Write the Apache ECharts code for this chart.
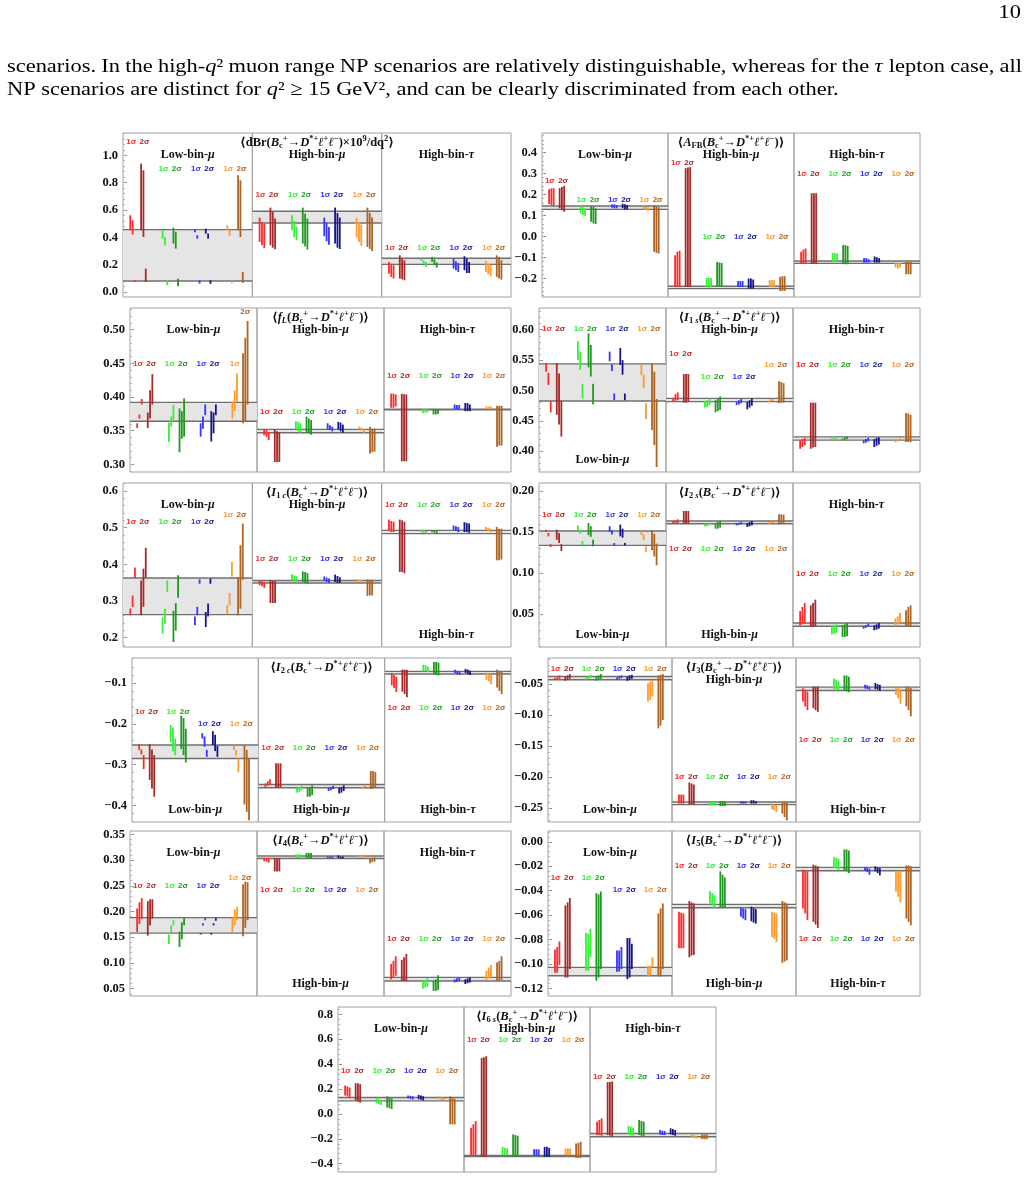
<!DOCTYPE html>
<html>
<head>
<meta charset="utf-8">
<script src="https://cdn.jsdelivr.net/npm/echarts@6/dist/echarts.min.js"></script>
<style>
  html, body { margin: 0; padding: 0; background: #fff; }
  #chart { width: 1028px; height: 1179px; }
</style>
</head>
<body>
<div id="chart"></div>
<script>
// ---- page text ----
const pageNumber = '10';
const paraLine1 = 'scenarios. In the high-q² muon range NP scenarios are relatively distinguishable, whereas for the τ lepton case, all';
const paraLine2 = '{n|NP scenarios are distinct for }{i|q}{n|² ≥ 15 GeV², and can be clearly discriminated from each other.}';

// ---- sub-panel names ----
const subNames = ['{n|Low-bin-}{i|μ}', '{n|High-bin-}{i|μ}', '{n|High-bin-}{i|τ}'];

// ---- panel titles ----
const decay = '{n|(}{i|B}{sb|c}{sp|+}{n|→}{i|D}{sp|*+}{i|ℓ}{sp|+}{i|ℓ}{sp|−}{n|)}';
const dBrTitle = '{n|⟨dBr}' + decay + '{n|×10}{sp|9}{n|/dq}{sp|2}{n|⟩}';
const afbTitle = '{n|⟨}{i|A}{sb|FB}' + decay + '{n|⟩}';
const fLTitle = '{n|⟨}{i|f}{sbi|L}' + decay + '{n|⟩}';
const i1sTitle = '{n|⟨}{i|I}{sb|1 }{sbi|s}' + decay + '{n|⟩}';
const i1cTitle = '{n|⟨}{i|I}{sb|1 }{sbi|c}' + decay + '{n|⟩}';
const i2sTitle = '{n|⟨}{i|I}{sb|2 }{sbi|s}' + decay + '{n|⟩}';
const i2cTitle = '{n|⟨}{i|I}{sb|2 }{sbi|c}' + decay + '{n|⟩}';
const i3Title = '{n|⟨}{i|I}{sb|3}' + decay + '{n|⟩}';
const i4Title = '{n|⟨}{i|I}{sb|4}' + decay + '{n|⟩}';
const i5Title = '{n|⟨}{i|I}{sb|5}' + decay + '{n|⟩}';
const i6sTitle = '{n|⟨}{i|I}{sb|6 }{sbi|s}' + decay + '{n|⟩}';

// ---- tick labels ----
const dBrTicks = [0, 0.2, 0.4, 0.6, 0.8, 1.0];
const afbTicks = [-0.2, -0.1, 0, 0.1, 0.2, 0.3, 0.4];
const fLTicks = [0.30, 0.35, 0.40, 0.45, 0.50];
const i1sTicks = [0.40, 0.45, 0.50, 0.55, 0.60];
const i1cTicks = [0.2, 0.3, 0.4, 0.5, 0.6];
const i2sTicks = [0.05, 0.10, 0.15, 0.20];
const i2cTicks = [-0.4, -0.3, -0.2, -0.1];
const i3Ticks = [-0.25, -0.20, -0.15, -0.10, -0.05];
const i4Ticks = [0.05, 0.10, 0.15, 0.20, 0.25, 0.30, 0.35];
const i5Ticks = [-0.12, -0.10, -0.08, -0.06, -0.04, -0.02, 0.00];
const i6sTicks = [-0.4, -0.2, 0, 0.2, 0.4, 0.6, 0.8];

// ---- data: each sub-panel = 8 clusters (red 1σ, red 2σ, green 1σ, green 2σ, blue 1σ, blue 2σ, orange 1σ, orange 2σ),
//      each cluster = list of [low, high] ranges. SM = [low, high] band per sub-panel. Tags = y of "1σ 2σ" labels.

// dBr
const dBrSM = [[0.080, 0.456], [0.505, 0.590], [0.202, 0.246]];
const dBrLow = [
  [[0.451, 0.561], [0.420, 0.524], [0.073, 0.085]],
  [[0.451, 0.939], [0.402, 0.890], [0.073, 0.171]],
  [[0.390, 0.451], [0.340, 0.400], [0.050, 0.085]],
  [[0.354, 0.470], [0.317, 0.440], [0.041, 0.097]],
  [[0.437, 0.456], [0.390, 0.415], [0.061, 0.085]],
  [[0.427, 0.463], [0.390, 0.427], [0.059, 0.085]],
  [[0.451, 0.488], [0.410, 0.456], [0.066, 0.080]],
  [[0.451, 0.854], [0.402, 0.817], [0.066, 0.146]]
];
const dBrHighMu = [
  [[0.366, 0.544], [0.341, 0.512], [0.322, 0.500]],
  [[0.341, 0.617], [0.324, 0.585], [0.312, 0.537]],
  [[0.451, 0.561], [0.400, 0.520], [0.378, 0.476]],
  [[0.354, 0.617], [0.334, 0.573], [0.310, 0.537]],
  [[0.407, 0.544], [0.371, 0.507], [0.346, 0.476]],
  [[0.354, 0.617], [0.324, 0.578], [0.314, 0.544]],
  [[0.398, 0.544], [0.366, 0.512], [0.337, 0.493]],
  [[0.329, 0.617], [0.315, 0.578], [0.300, 0.544]]
];
const dBrHighTau = [
  [[0.134, 0.220], [0.110, 0.207], [0.098, 0.195]],
  [[0.098, 0.268], [0.093, 0.244], [0.085, 0.232]],
  [[0.227, 0.244], [0.207, 0.232], [0.183, 0.220]],
  [[0.220, 0.256], [0.195, 0.239], [0.178, 0.215]],
  [[0.171, 0.244], [0.159, 0.224], [0.146, 0.212]],
  [[0.159, 0.261], [0.139, 0.244], [0.139, 0.220]],
  [[0.146, 0.227], [0.129, 0.207], [0.117, 0.200]],
  [[0.110, 0.268], [0.098, 0.256], [0.090, 0.232]]
];
const dBrTags = [[1.098, 0.90, 0.90, 0.90], [0.712, 0.712, 0.712, 0.712], [0.324, 0.324, 0.324, 0.324]];

// AFB
const afbSM = [[0.129, 0.145], [-0.248, -0.237], [-0.128, -0.117]];
const afbLow = [
  [[0.155, 0.225], [0.150, 0.229], [0.145, 0.230]],
  [[0.134, 0.230], [0.125, 0.235], [0.118, 0.241]],
  [[0.110, 0.145], [0.102, 0.139], [0.098, 0.134]],
  [[0.070, 0.145], [0.062, 0.142], [0.059, 0.134]],
  [[0.137, 0.153], [0.134, 0.153], [0.134, 0.150]],
  [[0.134, 0.156], [0.129, 0.153], [0.129, 0.150]],
  [[0.129, 0.145], [0.126, 0.142], [0.123, 0.139]],
  [[-0.073, 0.150], [-0.078, 0.145], [-0.081, 0.139]]
];
const afbHighMu = [
  [[-0.240, -0.089], [-0.240, -0.073], [-0.240, -0.068]],
  [[-0.240, 0.325], [-0.240, 0.328], [-0.240, 0.330]],
  [[-0.240, -0.196], [-0.240, -0.196], [-0.240, -0.198]],
  [[-0.240, -0.121], [-0.240, -0.124], [-0.240, -0.126]],
  [[-0.240, -0.212], [-0.240, -0.212], [-0.240, -0.212]],
  [[-0.248, -0.200], [-0.248, -0.200], [-0.248, -0.205]],
  [[-0.240, -0.208], [-0.240, -0.208], [-0.240, -0.208]],
  [[-0.259, -0.192], [-0.259, -0.189], [-0.259, -0.189]]
];
const afbHighTau = [
  [[-0.129, -0.073], [-0.129, -0.062], [-0.129, -0.057]],
  [[-0.129, 0.206], [-0.129, 0.206], [-0.129, 0.206]],
  [[-0.121, -0.078], [-0.121, -0.078], [-0.121, -0.081]],
  [[-0.132, -0.041], [-0.132, -0.041], [-0.132, -0.045]],
  [[-0.124, -0.103], [-0.124, -0.103], [-0.124, -0.108]],
  [[-0.124, -0.095], [-0.124, -0.099], [-0.124, -0.103]],
  [[-0.148, -0.126], [-0.153, -0.126], [-0.148, -0.126]],
  [[-0.180, -0.121], [-0.180, -0.121], [-0.180, -0.121]]
];
const afbTags = [[0.266, 0.174, 0.174, 0.174], [0.352, 0, 0, 0], [0.30, 0.30, 0.30, 0.30]];

// fL
const fLSM = [[0.364, 0.392], [0.347, 0.352], [0.381, 0.382]];
const fLLow = [
  [[0.354, 0.361], [0.368, 0.374], [0.389, 0.397]],
  [[0.354, 0.377], [0.368, 0.410], [0.389, 0.434]],
  [[0.333, 0.362], [0.356, 0.371], [0.366, 0.388]],
  [[0.318, 0.383], [0.338, 0.379], [0.341, 0.398]],
  [[0.341, 0.361], [0.353, 0.371], [0.373, 0.389]],
  [[0.334, 0.379], [0.346, 0.377], [0.373, 0.389]],
  [[0.368, 0.393], [0.379, 0.410], [0.393, 0.435]],
  [[0.361, 0.465], [0.363, 0.488], [0.389, 0.513]]
];
const fLHighMu = [
  [[0.343, 0.352], [0.341, 0.351], [0.336, 0.348]],
  [[0.3035, 0.352], [0.3035, 0.349], [0.3035, 0.348]],
  [[0.352, 0.364], [0.349, 0.363], [0.347, 0.361]],
  [[0.347, 0.371], [0.346, 0.368], [0.344, 0.366]],
  [[0.352, 0.361], [0.351, 0.358], [0.349, 0.356]],
  [[0.352, 0.363], [0.349, 0.362], [0.347, 0.359]],
  [[0.352, 0.356], [0.350, 0.354], [0.347, 0.352]],
  [[0.316, 0.356], [0.318, 0.353], [0.319, 0.353]]
];
const fLHighTau = [
  [[0.384, 0.405], [0.384, 0.405], [0.386, 0.404]],
  [[0.3045, 0.405], [0.3045, 0.404], [0.3045, 0.404]],
  [[0.376, 0.382], [0.377, 0.382], [0.377, 0.382]],
  [[0.374, 0.382], [0.374, 0.382], [0.375, 0.382]],
  [[0.382, 0.389], [0.382, 0.388], [0.382, 0.388]],
  [[0.379, 0.391], [0.379, 0.391], [0.379, 0.389]],
  [[0.382, 0.386], [0.382, 0.386], [0.382, 0.386]],
  [[0.326, 0.387], [0.328, 0.387], [0.328, 0.387]]
];
const fLTags = [[0.449, 0.449, 0.449, [0.449, 0.527]], [0.378, 0.378, 0.378, 0.378], [0.431, 0.431, 0.431, 0.431]];

// I1s
const i1sSM = [[0.4826, 0.5438], [0.4816, 0.487], [0.4182, 0.4237]];
const i1sLow = [
  [[0.531, 0.545], [0.509, 0.529], [0.464, 0.483]],
  [[0.460, 0.545], [0.444, 0.528], [0.424, 0.483]],
  [[0.550, 0.581], [0.534, 0.564], [0.487, 0.511]],
  [[0.538, 0.594], [0.523, 0.575], [0.477, 0.511]],
  [[0.548, 0.564], [0.532, 0.543], [0.484, 0.495]],
  [[0.542, 0.570], [0.526, 0.550], [0.484, 0.495]],
  [[0.525, 0.543], [0.504, 0.526], [0.453, 0.479]],
  [[0.435, 0.545], [0.410, 0.531], [0.374, 0.486]]
];
const i1sHighMu = [
  [[0.482, 0.488], [0.483, 0.494], [0.484, 0.497]],
  [[0.480, 0.527], [0.480, 0.527], [0.481, 0.527]],
  [[0.472, 0.483], [0.473, 0.484], [0.476, 0.487]],
  [[0.464, 0.484], [0.466, 0.487], [0.468, 0.490]],
  [[0.476, 0.481], [0.477, 0.484], [0.479, 0.486]],
  [[0.469, 0.481], [0.472, 0.484], [0.475, 0.487]],
  [[0.480, 0.483], [0.482, 0.486], [0.483, 0.487]],
  [[0.479, 0.515], [0.480, 0.514], [0.480, 0.512]]
];
const i1sHighTau = [
  [[0.404, 0.418], [0.407, 0.420], [0.410, 0.422]],
  [[0.404, 0.480], [0.406, 0.480], [0.407, 0.480]],
  [[0.418, 0.421], [0.419, 0.422], [0.420, 0.423]],
  [[0.418, 0.421], [0.419, 0.423], [0.420, 0.424]],
  [[0.413, 0.418], [0.414, 0.420], [0.416, 0.422]],
  [[0.407, 0.420], [0.409, 0.422], [0.411, 0.423]],
  [[0.415, 0.418], [0.416, 0.420], [0.418, 0.422]],
  [[0.415, 0.463], [0.415, 0.462], [0.415, 0.460]]
];
const i1sTags = [[0.602, 0.602, 0.602, 0.602], [0.560, 0.523, 0.523, 0.542], [0.542, 0.542, 0.542, 0.542]];

// I1c
const i1cSM = [[0.2627, 0.3627], [0.349, 0.356], [0.4836, 0.4927]];
const i1cLow = [
  [[0.261, 0.279], [0.284, 0.315], [0.363, 0.391]],
  [[0.261, 0.356], [0.284, 0.388], [0.363, 0.445]],
  [[0.211, 0.256], [0.238, 0.279], [0.325, 0.356]],
  [[0.188, 0.273], [0.219, 0.294], [0.309, 0.370]],
  [[0.234, 0.258], [0.261, 0.284], [0.347, 0.359]],
  [[0.229, 0.270], [0.258, 0.293], [0.347, 0.361]],
  [[0.264, 0.288], [0.288, 0.322], [0.367, 0.406]],
  [[0.261, 0.365], [0.279, 0.452], [0.358, 0.511]]
];
const i1cHighMu = [
  [[0.343, 0.356], [0.340, 0.354], [0.336, 0.352]],
  [[0.2945, 0.356], [0.2945, 0.355], [0.2945, 0.354]],
  [[0.356, 0.373], [0.354, 0.370], [0.352, 0.367]],
  [[0.352, 0.381], [0.349, 0.379], [0.347, 0.376]],
  [[0.356, 0.367], [0.352, 0.364], [0.349, 0.361]],
  [[0.352, 0.372], [0.349, 0.368], [0.349, 0.365]],
  [[0.356, 0.359], [0.354, 0.358], [0.352, 0.358]],
  [[0.314, 0.359], [0.315, 0.358], [0.315, 0.358]]
];
const i1cHighTau = [
  [[0.491, 0.522], [0.488, 0.518], [0.488, 0.516]],
  [[0.379, 0.522], [0.379, 0.520], [0.376, 0.516]],
  [[0.488, 0.493], [0.486, 0.493], [0.484, 0.491]],
  [[0.488, 0.493], [0.486, 0.493], [0.484, 0.491]],
  [[0.493, 0.506], [0.491, 0.504], [0.488, 0.502]],
  [[0.488, 0.515], [0.488, 0.513], [0.486, 0.511]],
  [[0.493, 0.502], [0.491, 0.500], [0.488, 0.497]],
  [[0.411, 0.502], [0.411, 0.497], [0.413, 0.497]]
];
const i1cTags = [[0.515, 0.515, 0.515, 0.534], [0.415, 0.415, 0.415, 0.415], [0.561, 0.561, 0.561, 0.561]];

// I2s
const i2sSM = [[0.1336, 0.1511], [0.160, 0.1633], [0.0347, 0.0388]];
const i2sLow = [
  [[0.150, 0.1528], [0.1446, 0.1487], [0.1316, 0.135]],
  [[0.1406, 0.1528], [0.1365, 0.1487], [0.1267, 0.135]],
  [[0.152, 0.158], [0.148, 0.153], [0.1336, 0.139]],
  [[0.146, 0.161], [0.144, 0.157], [0.1324, 0.1405]],
  [[0.150, 0.157], [0.147, 0.152], [0.1336, 0.1365]],
  [[0.1446, 0.159], [0.143, 0.154], [0.1336, 0.1365]],
  [[0.146, 0.151], [0.1397, 0.147], [0.1255, 0.1324]],
  [[0.1275, 0.152], [0.120, 0.1478], [0.1092, 0.1357]]
];
const i2sHighMu = [
  [[0.160, 0.1633], [0.1609, 0.1642], [0.1609, 0.1654]],
  [[0.160, 0.1756], [0.160, 0.1756], [0.160, 0.1756]],
  [[0.1568, 0.160], [0.1572, 0.160], [0.158, 0.1609]],
  [[0.154, 0.1609], [0.154, 0.1621], [0.1552, 0.1633]],
  [[0.158, 0.1609], [0.1589, 0.1613], [0.1593, 0.1621]],
  [[0.156, 0.1609], [0.1568, 0.1621], [0.158, 0.1633]],
  [[0.160, 0.1621], [0.160, 0.1621], [0.1609, 0.1629]],
  [[0.159, 0.1715], [0.160, 0.1715], [0.160, 0.1711]]
];
const i2sHighTau = [
  [[0.0359, 0.0534], [0.0371, 0.0583], [0.038, 0.0632]],
  [[0.0339, 0.0603], [0.0339, 0.0632], [0.0347, 0.0673]],
  [[0.0249, 0.0347], [0.0257, 0.0359], [0.0265, 0.0371]],
  [[0.0217, 0.0359], [0.0217, 0.0371], [0.0225, 0.0388]],
  [[0.0318, 0.0347], [0.033, 0.0359], [0.0339, 0.038]],
  [[0.0298, 0.0359], [0.0306, 0.0371], [0.0318, 0.0388]],
  [[0.0347, 0.0441], [0.0371, 0.0469], [0.0388, 0.051]],
  [[0.0339, 0.0542], [0.0339, 0.0583], [0.0347, 0.0603]]
];
const i2sTags = [[0.1715, 0.1715, 0.1715, 0.1715], [0.1296, 0.1296, 0.1296, 0.1296], [0.099, 0.099, 0.099, 0.099]];

// I2c
const i2cSM = [[-0.285, -0.252], [-0.357, -0.349], [-0.0778, -0.0712]];
const i2cLow = [
  [[-0.264, -0.250], [-0.275, -0.263], [-0.311, -0.277]],
  [[-0.338, -0.250], [-0.359, -0.263], [-0.379, -0.277]],
  [[-0.245, -0.203], [-0.268, -0.209], [-0.277, -0.236]],
  [[-0.262, -0.180], [-0.277, -0.186], [-0.295, -0.212]],
  [[-0.236, -0.223], [-0.256, -0.231], [-0.281, -0.264]],
  [[-0.252, -0.218], [-0.267, -0.227], [-0.281, -0.254]],
  [[-0.264, -0.252], [-0.278, -0.264], [-0.319, -0.285]],
  [[-0.398, -0.252], [-0.416, -0.264], [-0.437, -0.285]]
];
const i2cHighMu = [
  [[-0.357, -0.3465], [-0.352, -0.341], [-0.349, -0.336]],
  [[-0.357, -0.297], [-0.357, -0.297], [-0.355, -0.297]],
  [[-0.369, -0.357], [-0.367, -0.355], [-0.363, -0.351]],
  [[-0.379, -0.357], [-0.379, -0.355], [-0.375, -0.351]],
  [[-0.365, -0.357], [-0.363, -0.355], [-0.360, -0.352]],
  [[-0.371, -0.357], [-0.369, -0.355], [-0.365, -0.351]],
  [[-0.360, -0.357], [-0.359, -0.355], [-0.355, -0.351]],
  [[-0.360, -0.316], [-0.359, -0.316], [-0.357, -0.318]]
];
const i2cHighTau = [
  [[-0.106, -0.075], [-0.112, -0.080], [-0.122, -0.084]],
  [[-0.121, -0.067], [-0.127, -0.067], [-0.135, -0.067]],
  [[-0.071, -0.055], [-0.071, -0.056], [-0.073, -0.059]],
  [[-0.078, -0.048], [-0.080, -0.048], [-0.081, -0.050]],
  [[-0.075, -0.067], [-0.078, -0.070], [-0.080, -0.071]],
  [[-0.075, -0.065], [-0.078, -0.067], [-0.080, -0.070]],
  [[-0.092, -0.075], [-0.096, -0.078], [-0.103, -0.080]],
  [[-0.111, -0.067], [-0.119, -0.070], [-0.127, -0.071]]
];
const i2cTags = [[-0.17, -0.17, -0.199, -0.199], [-0.259, -0.259, -0.259, -0.259], [-0.16, -0.16, -0.16, -0.16]];

// I3
const i3SM = [[-0.043, -0.0376], [-0.2446, -0.2403], [-0.0603, -0.0549]];
const i3Low = [
  [[-0.043, -0.0403], [-0.043, -0.0392], [-0.0414, -0.0359]],
  [[-0.0446, -0.0376], [-0.043, -0.0359], [-0.0414, -0.0338]],
  [[-0.043, -0.0392], [-0.0414, -0.0376], [-0.0403, -0.0349]],
  [[-0.0446, -0.0376], [-0.043, -0.0359], [-0.0414, -0.0338]],
  [[-0.043, -0.0392], [-0.0414, -0.0376], [-0.0403, -0.0359]],
  [[-0.0446, -0.0376], [-0.043, -0.0359], [-0.0414, -0.0349]],
  [[-0.0781, -0.0484], [-0.0754, -0.0457], [-0.070, -0.043]],
  [[-0.1214, -0.0359], [-0.117, -0.0349], [-0.1078, -0.0338]]
];
const i3HighMu = [
  [[-0.243, -0.2284], [-0.243, -0.2284], [-0.243, -0.2284]],
  [[-0.2446, -0.2089], [-0.2446, -0.2105], [-0.2446, -0.2122]],
  [[-0.2457, -0.2403], [-0.2457, -0.2403], [-0.2457, -0.2403]],
  [[-0.2468, -0.2392], [-0.2468, -0.2392], [-0.2468, -0.2392]],
  [[-0.243, -0.2392], [-0.243, -0.2392], [-0.243, -0.2392]],
  [[-0.243, -0.2376], [-0.243, -0.2376], [-0.243, -0.2392]],
  [[-0.2522, -0.243], [-0.2538, -0.2446], [-0.2565, -0.2457]],
  [[-0.2592, -0.2403], [-0.2646, -0.2403], [-0.270, -0.2403]]
];
const i3HighTau = [
  [[-0.078, -0.0565], [-0.086, -0.059], [-0.092, -0.062]],
  [[-0.089, -0.054], [-0.092, -0.054], [-0.095, -0.054]],
  [[-0.058, -0.041], [-0.058, -0.043], [-0.059, -0.045]],
  [[-0.061, -0.036], [-0.062, -0.036], [-0.063, -0.038]],
  [[-0.057, -0.051], [-0.058, -0.052], [-0.059, -0.054]],
  [[-0.058, -0.048], [-0.059, -0.050], [-0.061, -0.051]],
  [[-0.067, -0.0565], [-0.073, -0.0565], [-0.082, -0.059]],
  [[-0.086, -0.054], [-0.092, -0.054], [-0.102, -0.0565]]
];
const i3Tags = [[-0.0251, -0.0251, -0.0251, -0.0251], [-0.20, -0.20, -0.20, -0.20], [-0.1403, -0.1403, -0.1403, -0.1403]];

// I4
const i4SM = [[0.158, 0.188], [0.303, 0.308], [0.065, 0.072]];
const i4Low = [
  [[0.160, 0.206], [0.176, 0.218], [0.185, 0.226]],
  [[0.153, 0.220], [0.173, 0.224], [0.186, 0.224]],
  [[0.137, 0.155], [0.160, 0.173], [0.173, 0.183]],
  [[0.131, 0.161], [0.146, 0.179], [0.173, 0.187]],
  [[0.155, 0.158], [0.173, 0.177], [0.183, 0.187]],
  [[0.155, 0.158], [0.173, 0.177], [0.182, 0.187]],
  [[0.160, 0.188], [0.173, 0.204], [0.183, 0.209]],
  [[0.152, 0.253], [0.168, 0.258], [0.183, 0.257]]
];
const i4HighMu = [
  [[0.298, 0.304], [0.297, 0.304], [0.295, 0.304]],
  [[0.278, 0.304], [0.278, 0.304], [0.278, 0.304]],
  [[0.304, 0.311], [0.304, 0.311], [0.304, 0.311]],
  [[0.303, 0.314], [0.303, 0.314], [0.303, 0.314]],
  [[0.304, 0.307], [0.304, 0.307], [0.303, 0.307]],
  [[0.304, 0.309], [0.303, 0.307], [0.303, 0.307]],
  [[0.305, 0.309], [0.305, 0.309], [0.305, 0.309]],
  [[0.294, 0.304], [0.296, 0.304], [0.297, 0.305]]
];
const i4HighTau = [
  [[0.068, 0.098], [0.072, 0.104], [0.075, 0.113]],
  [[0.065, 0.106], [0.065, 0.111], [0.065, 0.1175]],
  [[0.050, 0.065], [0.052, 0.067], [0.054, 0.070]],
  [[0.0455, 0.065], [0.0455, 0.068], [0.0474, 0.076]],
  [[0.062, 0.068], [0.063, 0.070], [0.065, 0.072]],
  [[0.059, 0.068], [0.0605, 0.070], [0.062, 0.072]],
  [[0.067, 0.085], [0.070, 0.091], [0.072, 0.096]],
  [[0.065, 0.101], [0.065, 0.104], [0.067, 0.113]]
];
const i4Tags = [[0.25, 0.25, 0.25, 0.265], [0.242, 0.242, 0.242, 0.242], [0.147, 0.147, 0.147, 0.147]];

// I5
const i5SM = [[-0.1095, -0.1027], [-0.054, -0.0512], [-0.0237, -0.0209]];
const i5Low = [
  [[-0.107, -0.088], [-0.107, -0.086], [-0.1007, -0.0815]],
  [[-0.111, -0.052], [-0.111, -0.0495], [-0.104, -0.046]],
  [[-0.1054, -0.0743], [-0.1054, -0.0752], [-0.0944, -0.071]],
  [[-0.1137, -0.042], [-0.111, -0.043], [-0.104, -0.0407]],
  [[-0.1062, -0.0889], [-0.1062, -0.0889], [-0.104, -0.086]],
  [[-0.1123, -0.0787], [-0.111, -0.0787], [-0.104, -0.0834]],
  [[-0.1095, -0.1018], [-0.1095, -0.1013], [-0.1027, -0.0944]],
  [[-0.110, -0.0586], [-0.110, -0.0545], [-0.104, -0.0504]]
];
const i5HighMu = [
  [[-0.087, -0.0573], [-0.087, -0.0581], [-0.087, -0.0586]],
  [[-0.0944, -0.0484], [-0.093, -0.0495], [-0.0925, -0.0504]],
  [[-0.0504, -0.0402], [-0.0523, -0.042], [-0.054, -0.0435]],
  [[-0.054, -0.0242], [-0.054, -0.027], [-0.054, -0.0292]],
  [[-0.0614, -0.054], [-0.0628, -0.0545], [-0.0641, -0.055]],
  [[-0.065, -0.0531], [-0.0661, -0.054], [-0.0669, -0.055]],
  [[-0.0779, -0.0573], [-0.0793, -0.0578], [-0.082, -0.0586]],
  [[-0.099, -0.0484], [-0.098, -0.0495], [-0.097, -0.0504]]
];
const i5HighTau = [
  [[-0.0545, -0.0228], [-0.0586, -0.0237], [-0.0641, -0.0242]],
  [[-0.0655, -0.0187], [-0.0677, -0.0193], [-0.0705, -0.0201]],
  [[-0.0215, -0.0127], [-0.0220, -0.0132], [-0.0229, -0.0138]],
  [[-0.0237, -0.0063], [-0.0242, -0.0063], [-0.0256, -0.0072]],
  [[-0.0237, -0.0209], [-0.0248, -0.0215], [-0.027, -0.022]],
  [[-0.0242, -0.0201], [-0.0256, -0.0209], [-0.0275, -0.0215]],
  [[-0.0407, -0.0237], [-0.0449, -0.0237], [-0.0495, -0.0237]],
  [[-0.0628, -0.0193], [-0.0655, -0.0193], [-0.0683, -0.0201]]
];
const i5Tags = [[-0.0297, -0.0297, -0.0394, -0.0394], [-0.0193, -0.0193, -0.0193, -0.0193], [-0.0793, -0.0793, -0.0793, -0.0793]];

// I6s
const i6sSM = [[0.1046, 0.1315], [-0.343, -0.333], [-0.184, -0.157]];
const i6sLow = [
  [[0.148, 0.229], [0.140, 0.221], [0.126, 0.212]],
  [[0.105, 0.247], [0.099, 0.247], [0.091, 0.239]],
  [[0.086, 0.126], [0.078, 0.118], [0.072, 0.113]],
  [[0.051, 0.140], [0.045, 0.134], [0.040, 0.126]],
  [[0.126, 0.148], [0.121, 0.145], [0.115, 0.142]],
  [[0.118, 0.153], [0.113, 0.148], [0.107, 0.142]],
  [[0.118, 0.140], [0.113, 0.134], [0.105, 0.126]],
  [[-0.084, 0.140], [-0.084, 0.126], [-0.084, 0.121]]
];
const i6sHighMu = [
  [[-0.332, -0.111], [-0.332, -0.084], [-0.332, -0.057]],
  [[-0.345, 0.450], [-0.345, 0.455], [-0.345, 0.463]],
  [[-0.332, -0.265], [-0.332, -0.273], [-0.332, -0.278]],
  [[-0.345, -0.165], [-0.345, -0.170], [-0.345, -0.176]],
  [[-0.337, -0.284], [-0.337, -0.284], [-0.337, -0.284]],
  [[-0.345, -0.265], [-0.345, -0.265], [-0.345, -0.273]],
  [[-0.332, -0.278], [-0.332, -0.278], [-0.332, -0.278]],
  [[-0.353, -0.238], [-0.353, -0.232], [-0.353, -0.224]]
];
const i6sHighTau = [
  [[-0.170, -0.0625], [-0.170, -0.049], [-0.176, -0.036]],
  [[-0.170, 0.2555], [-0.176, 0.2555], [-0.184, 0.261]],
  [[-0.165, -0.095], [-0.170, -0.103], [-0.176, -0.111]],
  [[-0.170, -0.049], [-0.176, -0.057], [-0.184, -0.0625]],
  [[-0.165, -0.130], [-0.170, -0.135], [-0.170, -0.138]],
  [[-0.165, -0.116], [-0.170, -0.122], [-0.176, -0.130]],
  [[-0.184, -0.165], [-0.189, -0.170], [-0.197, -0.176]],
  [[-0.203, -0.165], [-0.203, -0.165], [-0.203, -0.165]]
];
const i6sTags = [[0.35, 0.35, 0.35, 0.35], [0.598, 0.598, 0.598, 0.598], [0.301, 0.301, 0.301, 0.301]];

// ---- styling ----
const SERIF = '"Liberation Serif", "DejaVu Serif", serif';
const SANS = '"Liberation Sans", "DejaVu Sans", sans-serif';
const SHADES = [['#ff2a2a', '#a82a2a'], ['#35f035', '#1e9a1e'], ['#3535ff', '#15158f'], ['#ff9a2c', '#ae6422']];
const OFF1 = [0.225, 0.297, 0.369];
const OFF2 = [0.56, 0.632, 0.704];

const titleRich = {
  n: { fontFamily: SERIF, fontWeight: 'bold', fontSize: 12.5, fill: '#111', lineHeight: 16 },
  i: { fontFamily: SERIF, fontWeight: 'bold', fontStyle: 'italic', fontSize: 12.5, fill: '#111', lineHeight: 16 },
  sb: { fontFamily: SERIF, fontWeight: 'bold', fontSize: 8.5, fill: '#111', verticalAlign: 'bottom' },
  sbi: { fontFamily: SERIF, fontWeight: 'bold', fontStyle: 'italic', fontSize: 8.5, fill: '#111', verticalAlign: 'bottom' },
  sp: { fontFamily: SERIF, fontWeight: 'bold', fontSize: 8.5, fill: '#111', verticalAlign: 'top' }
};
const headRich = {
  n: { fontFamily: SERIF, fontWeight: 'bold', fontSize: 12, fill: '#111' },
  i: { fontFamily: SERIF, fontWeight: 'bold', fontStyle: 'italic', fontSize: 12, fill: '#111' }
};

// panel boxes [left, top, right, bottom] in px
const panels = [
  { box: [123, 133, 511, 297], min: -0.037, max: 1.163, ticks: dBrTicks, dec: 1, sm: dBrSM, subs: [dBrLow, dBrHighMu, dBrHighTau], tags: dBrTags, heads: 'ttt', title: dBrTitle },
  { box: [542, 133, 920, 297], min: -0.288, max: 0.4924, ticks: afbTicks, dec: 1, sm: afbSM, subs: [afbLow, afbHighMu, afbHighTau], tags: afbTags, heads: 'ttt', title: afbTitle },
  { box: [130, 308, 511, 472], min: 0.2886, max: 0.5323, ticks: fLTicks, dec: 2, sm: fLSM, subs: [fLLow, fLHighMu, fLHighTau], tags: fLTags, heads: 'ttt', title: fLTitle },
  { box: [539, 308, 920, 472], min: 0.3658, max: 0.6358, ticks: i1sTicks, dec: 2, sm: i1sSM, subs: [i1sLow, i1sHighMu, i1sHighTau], tags: i1sTags, heads: 'btt', title: i1sTitle },
  { box: [123, 483, 511, 647], min: 0.1745, max: 0.6218, ticks: i1cTicks, dec: 1, sm: i1cSM, subs: [i1cLow, i1cHighMu, i1cHighTau], tags: i1cTags, heads: 'ttb', title: i1cTitle },
  { box: [539, 483, 920, 647], min: 0.0094, max: 0.2098, ticks: i2sTicks, dec: 2, sm: i2sSM, subs: [i2sLow, i2sHighMu, i2sHighTau], tags: i2sTags, heads: 'bbt', title: i2sTitle },
  { box: [132, 658, 511, 822], min: -0.441, max: -0.0384, ticks: i2cTicks, dec: 1, sm: i2cSM, subs: [i2cLow, i2cHighMu, i2cHighTau], tags: i2cTags, heads: 'bbb', title: i2cTitle },
  { box: [548, 658, 920, 822], min: -0.2727, max: -0.0078, ticks: i3Ticks, dec: 2, sm: i3SM, subs: [i3Low, i3HighMu, i3HighTau], tags: i3Tags, heads: 'btb', title: i3Title },
  { box: [130, 831, 511, 996], min: 0.0357, max: 0.3565, ticks: i4Ticks, dec: 2, sm: i4SM, subs: [i4Low, i4HighMu, i4HighTau], tags: i4Tags, heads: 'tbt', title: i4Title },
  { box: [548, 831, 920, 996], min: -0.1261, max: 0.0088, ticks: i5Ticks, dec: 2, sm: i5SM, subs: [i5Low, i5HighMu, i5HighTau], tags: i5Tags, heads: 'tbb', title: i5Title },
  { box: [338, 1007, 716, 1172], min: -0.467, max: 0.859, ticks: i6sTicks, dec: 1, sm: i6sSM, subs: [i6sLow, i6sHighMu, i6sHighTau], tags: i6sTags, heads: 'ttt', title: i6sTitle }
];

function renderBand(params, api) {
  const a = api.coord([0, api.value(1)]);
  const b = api.coord([4, api.value(0)]);
  return {
    type: 'group',
    children: [
      { type: 'rect', shape: { x: a[0], y: a[1], width: b[0] - a[0], height: b[1] - a[1] }, style: { fill: '#e5e5e5' } },
      { type: 'line', shape: { x1: a[0], y1: a[1], x2: b[0], y2: a[1] }, style: { stroke: '#6f6f6f', lineWidth: 1.4 } },
      { type: 'line', shape: { x1: a[0], y1: b[1], x2: b[0], y2: b[1] }, style: { stroke: '#6f6f6f', lineWidth: 1.4 } }
    ]
  };
}

function renderBar(params, api) {
  const x = api.value(0);
  const top = api.coord([x, api.value(2)]);
  const bot = api.coord([x, api.value(1)]);
  const c = api.value(3);
  return {
    type: 'rect',
    shape: { x: top[0] - 0.9, y: top[1], width: 1.8, height: Math.max(bot[1] - top[1], 1.2) },
    style: { fill: SHADES[c >> 1][c & 1] }
  };
}

function renderTag(params, api) {
  const p = api.coord([api.value(0), api.value(1)]);
  const grp = api.value(2), part = api.value(3);
  const text = part === 0 ? '{a|1σ} {b|2σ}' : part === 1 ? '{a|1σ}' : '{b|2σ}';
  const base = { fontFamily: SANS, fontWeight: 'bold', fontSize: 8 };
  return {
    type: 'text', x: p[0], y: p[1],
    style: {
      text: text, align: 'center', verticalAlign: 'middle',
      rich: {
        a: Object.assign({ fill: SHADES[grp][0] }, base),
        b: Object.assign({ fill: SHADES[grp][1] }, base)
      }
    }
  };
}

function minorTicks(ticks, min, max) {
  const step = (ticks[1] - ticks[0]) / 5;
  const out = [];
  for (let k = Math.ceil(min / step - 1e-9); k * step <= max + 1e-9; k++) out.push(+(k * step).toFixed(6));
  return out;
}

const grids = [], xAxes = [], yAxes = [], series = [], graphics = [];

panels.forEach(p => {
  const [L, T, R, B] = p.box;
  const w = (R - L) / 3;
  p.subs.forEach((sub, k) => {
    const g = grids.length;
    grids.push({ left: L + k * w, top: T, width: w, height: B - T, show: true, borderColor: '#a2a2a2', borderWidth: 1 });
    xAxes.push({ gridIndex: g, type: 'value', min: 0, max: 4, show: false });
    const yi = yAxes.length;
    yAxes.push({
      gridIndex: g, type: 'value', min: p.min, max: p.max, show: k === 0, position: 'left',
      axisLine: { show: false }, splitLine: { show: false },
      axisTick: { show: true, inside: true, length: 4, customValues: p.ticks, lineStyle: { color: '#8a8a8a' } },
      axisLabel: {
        customValues: p.ticks, margin: 5, fontFamily: SERIF, fontWeight: 'bold', fontSize: 12.5, color: '#111',
        formatter: v => v.toFixed(p.dec).replace('-', '−')
      }
    });
    if (k === 0) {
      yAxes.push({
        gridIndex: g, type: 'value', min: p.min, max: p.max, position: 'left',
        axisLine: { show: false }, splitLine: { show: false }, axisLabel: { show: false },
        axisTick: { show: true, inside: true, length: 2, customValues: minorTicks(p.ticks, p.min, p.max), lineStyle: { color: '#b0b0b0' } }
      });
    }
    series.push({ type: 'custom', xAxisIndex: g, yAxisIndex: yi, data: [p.sm[k]], renderItem: renderBand, z: 1, silent: true });

    const bars = [];
    sub.forEach((cluster, c) => {
      const offs = (c & 1) ? OFF2 : OFF1;
      cluster.forEach((seg, j) => bars.push([(c >> 1) + offs[j], seg[0], seg[1], c]));
    });
    series.push({ type: 'custom', xAxisIndex: g, yAxisIndex: yi, data: bars, renderItem: renderBar, z: 2, silent: true });

    const tags = [];
    p.tags[k].forEach((y, grp) => {
      if (Array.isArray(y)) {
        tags.push([grp + 0.297, y[0], grp, 1]);
        tags.push([grp + 0.632, y[1], grp, 2]);
      } else {
        tags.push([grp + 0.46, y, grp, 0]);
      }
    });
    series.push({ type: 'custom', xAxisIndex: g, yAxisIndex: yi, data: tags, renderItem: renderTag, z: 3, silent: true });

    const cx = L + k * w + w / 2;
    const cy = p.heads[k] === 't' ? T + 22 : B - 12;
    graphics.push({ type: 'text', x: cx, y: cy, style: { text: subNames[k], rich: headRich, align: 'center', verticalAlign: 'middle' } });
  });
  graphics.push({ type: 'text', x: L + 1.5 * w, y: T + 9.5, style: { text: p.title, rich: titleRich, align: 'center', verticalAlign: 'middle' } });
});

// ---- page text: justified first line, natural second line (widened to match the original face) ----
const PARA_FONT = 19.5;
const PARA_SX = 1.15;
const paraRich = {
  n: { fontFamily: SERIF, fontSize: PARA_FONT, fill: '#000' },
  i: { fontFamily: SERIF, fontSize: PARA_FONT, fontStyle: 'italic', fill: '#000' }
};
const ctx = document.createElement('canvas').getContext('2d');
ctx.font = PARA_FONT + 'px "Liberation Serif"';
const words = paraLine1.split(' ');
const widths = words.map(wd => ctx.measureText(wd).width * PARA_SX);
const total = widths.reduce((s, v) => s + v, 0);
const gap = (1022 - 7 - total) / (words.length - 1);
let xw = 7;
words.forEach((wd, n) => {
  let rich;
  if (wd === 'τ') rich = '{i|τ}';
  else if (wd.indexOf('high-q') === 0) rich = '{n|high-}{i|q}{n|²}';
  else rich = '{n|' + wd + '}';
  graphics.push({ type: 'text', x: xw, y: 67, scaleX: PARA_SX, style: { text: rich, rich: paraRich, align: 'left', verticalAlign: 'middle' } });
  xw += widths[n] + gap;
});
graphics.push({ type: 'text', x: 7, y: 90, scaleX: PARA_SX, style: { text: paraLine2, rich: paraRich, align: 'left', verticalAlign: 'middle' } });
graphics.push({ type: 'text', x: 1021, y: 13, scaleX: PARA_SX, style: { text: pageNumber, fontFamily: SERIF, fontSize: PARA_FONT, fill: '#000', align: 'right', verticalAlign: 'middle' } });

const chart = echarts.init(document.getElementById('chart'));
chart.setOption({
  animation: false,
  backgroundColor: '#fff',
  grid: grids,
  xAxis: xAxes,
  yAxis: yAxes,
  series: series,
  graphic: { elements: graphics }
});
</script>
</body>
</html>
